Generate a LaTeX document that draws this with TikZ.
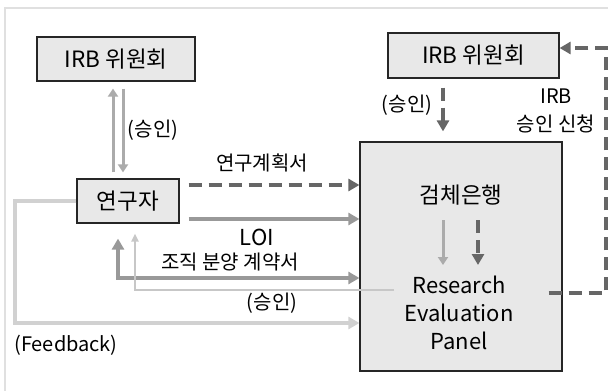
\documentclass[tikz,border=0pt]{standalone}
\usepackage{fontspec}
\setmainfont{Noto Sans CJK KR}
\usetikzlibrary{arrows.meta,calc}
\tikzset{labbox/.style={draw=black!85,fill=black!9,line width=1.2pt,inner sep=0pt}}
\tikzset{darkflow/.style={draw=black!60,line width=3.8pt,dash pattern=on 13pt off 7pt,-{Triangle[length=11pt,width=12pt]}}}
\tikzset{midflow/.style={draw=black!40,line width=4pt,-{Triangle[length=11pt,width=12pt]}}}
\tikzset{pairflow/.style={draw=black!33,line width=3pt,-{Triangle[length=8pt,width=10pt]}}}
\tikzset{lightflow/.style={draw=black!22,line width=2.5pt,-{Triangle[length=8pt,width=7pt]}}}
\tikzset{fbflow/.style={draw=black!18,line width=4pt,-{Triangle[length=11pt,width=12pt]}}}
\newcommand{\korsize}{\fontsize{20}{28}\selectfont}
\newcommand{\boxsize}{\fontsize{22.5}{28}\selectfont}
\newcommand{\latsize}{\fontsize{22}{28}\selectfont}
\newcommand{\fbsize}{\fontsize{20}{28}\selectfont}

\begin{document}
\begin{tikzpicture}[x=1pt,y=-1pt]
  \useasboundingbox (0,0) rectangle (608,391);
  \draw [black!12,line width=1.5pt] (608,8) -- (5,8) -- (5,391);

  \node [labbox,minimum width=158pt,minimum height=44pt,font=\boxsize] (irba) at (116,59) {IRB 위원회};
  \node [labbox,minimum width=171pt,minimum height=45pt,font=\boxsize] (irbb) at (473.5,55.5) {IRB 위원회};
  \node [labbox,minimum width=102pt,minimum height=44pt,font=\boxsize] (res) at (128,201) {연구자};
  \node [labbox,minimum width=202pt,minimum height=229pt] (bank) at (461,256.5) {};
  \node [font=\boxsize] (bankt) at (461,195) {검체은행};
  \node [font=\latsize,align=center] (panel) at (459,313) {Research\\Evaluation\\Panel};

  \coordinate (plan)  at ($(res.east)+(9,-16)$);
  \coordinate (loi)   at ($(res.east)+(9,18)$);
  \coordinate (tis)   at (118,278);
  \coordinate (aprs)  at (394,290);
  \coordinate (apr)   at (135,290);
  \coordinate (fb)    at (15,323);
  \coordinate (ret)   at ($(bank.east)+(-14,36.5)$);
  \coordinate (retc)  at (606,48);

  \draw [pairflow] ($(res.north)+(-15,-6)$) -- ($(irba.south)+(-3,7)$);
  \draw [pairflow] ($(irba.south)+(7,7)$) -- ($(res.north)+(-5,-6)$);
  \draw [darkflow] (plan) -- (plan -| bank.west);
  \draw [midflow]  (loi) -- (loi -| bank.west);
  \draw [midflow,{Triangle[length=11pt,width=12pt]}-{Triangle[length=11pt,width=12pt]}]
        (tis -| bank.west) -- (tis) -- ($(tis |- res.south)+(0,15)$);
  \draw [lightflow] (aprs) -- (apr) -- ($(apr |- res.south)+(0,10)$);
  \draw [fbflow]   (res.west) -- (res.west -| fb) -- (fb) -- (fb -| bank.west);
  \draw [darkflow] ($(irbb.south)+(-30.5,9)$) -- ($(bank.north)+(-18,-10)$);
  \draw [pairflow] ($(bankt)+(-18,25)$) -- ($(bankt)+(-18,70)$);
  \draw [darkflow] ($(bankt)+(17,25)$) -- ($(bankt)+(17,70)$);
  \draw [darkflow] (ret) -- (ret -| retc) -- (retc) -- (retc -| irbb.east);

  \node [font=\korsize] (apra) at (153,130) {(승인)};
  \node [font=\korsize] (plant) at (262,163) {연구계획서};
  \node [font=\latsize] (loit) at (257,237) {LOI};
  \node [font=\korsize] (tist) at (230,262) {조직 분양 계약서};
  \node [font=\korsize] (aprt) at (272,303) {(승인)};
  \node [font=\fbsize] (fbt) at (66,345) {(Feedback)};
  \node [font=\korsize] (aprb) at (407,105) {(승인)};
  \node [font=\korsize,align=center] (reqt) at (556,111) {IRB\\승인 신청};
\end{tikzpicture}
\end{document}
